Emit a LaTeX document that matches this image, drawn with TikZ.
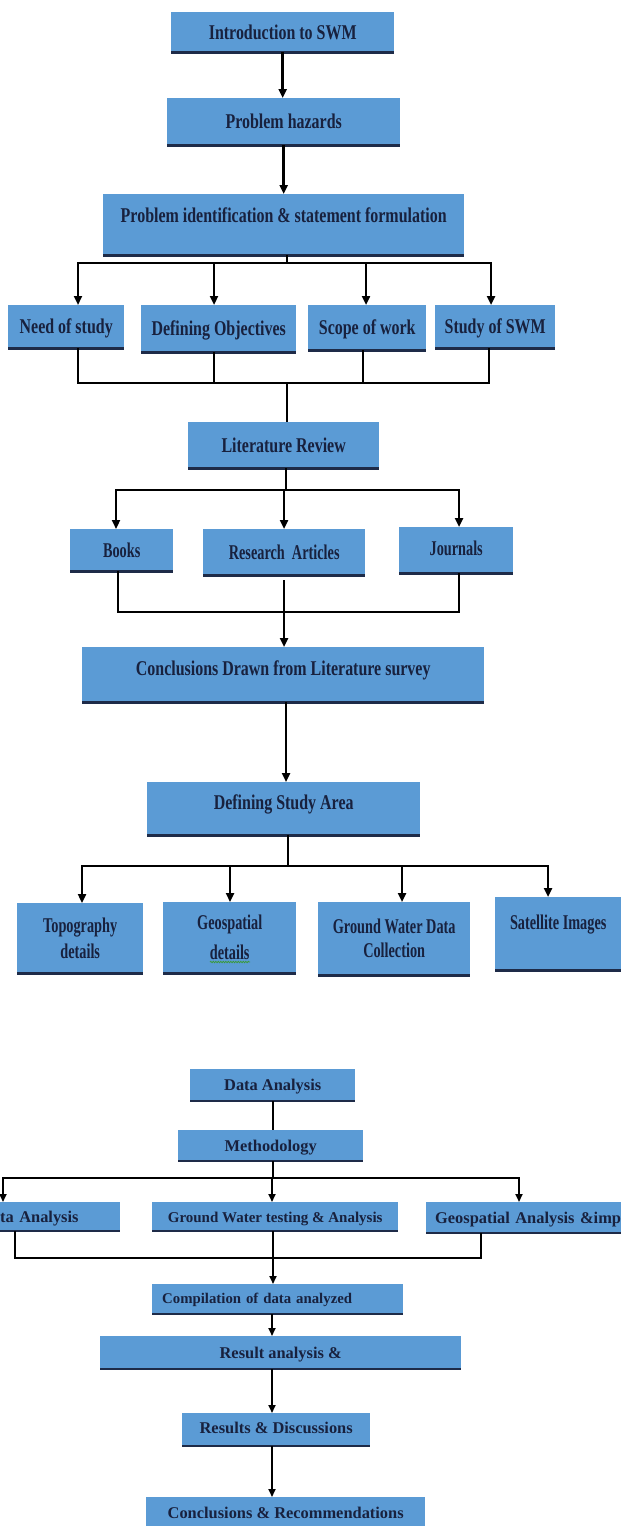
\documentclass[tikz,border=0pt]{standalone}
\usepackage{fontspec}
\setmainfont{Liberation Serif}
\newfontfamily\topfont[FakeStretch=0.76]{Liberation Serif}
\newfontfamily\topfontB[FakeStretch=0.68]{Liberation Serif}
\usetikzlibrary{arrows.meta,decorations.pathmorphing}
\definecolor{boxblue}{HTML}{5B9BD5}
\definecolor{txtc}{HTML}{18213E}
\definecolor{edgec}{HTML}{1E2B48}
\definecolor{wavy}{HTML}{3A9A3A}
\tikzset{
  box/.style={fill=boxblue, anchor=north west, inner sep=0pt, text=txtc, text depth=0pt},
  topA/.style={box, font=\topfont\bfseries\fontsize{21}{26}\selectfont, text height=14pt},
  topB/.style={box, font=\topfontB\bfseries\fontsize{21}{26}\selectfont, text height=14pt},
  botA/.style={box, font=\bfseries\fontsize{16.4}{20}\selectfont, text height=11pt},
  multi/.style={align=center, text height=, text depth=},
  edgeline/.style={draw=edgec, line width=2.4pt},
  conn/.style={draw=black, line width=2.6pt},
  arr/.style={conn, -{Triangle[length=9pt,width=8pt]}},
  darr/.style={conn, {Triangle[length=9pt,width=8pt]}-{Triangle[length=9pt,width=8pt]}},
  connB/.style={draw=black, line width=2.2pt},
  arrB/.style={connB, -{Triangle[length=8pt,width=7pt]}},
  darrB/.style={connB, {Triangle[length=8pt,width=7pt]}-{Triangle[length=8pt,width=7pt]}},
}
\begin{document}
\begin{tikzpicture}[x=1pt,y=-1pt]
\fill[white] (0,0) rectangle (621,1526);
\useasboundingbox (0,0) rectangle (621,1526);
\clip (0,0) rectangle (621,1526);

% ---------- upper chart ----------
\node[topA, minimum width=223pt, minimum height=40pt] (intro) at (171,12) {Introduction to SWM};
\node[topA, minimum width=233pt, minimum height=47pt] (haz) at (167,98) {Problem hazards};
\node[topA, minimum width=361pt, minimum height=61pt, text depth=18pt] (pid) at (103,194) {Problem identification \& statement formulation};

\node[topA, minimum width=116pt, minimum height=43pt] (need) at (8,305) {Need of study};
\node[topA, minimum width=155pt, minimum height=47pt] (obj) at (141,305) {Defining Objectives};
\node[topA, minimum width=118pt, minimum height=45pt] (scope) at (308,305) {Scope of work};
\node[topA, minimum width=120pt, minimum height=43pt] (sswm) at (435,305) {Study of SWM};

\node[topA, minimum width=191pt, minimum height=46pt] (lit) at (188,422) {Literature Review};

\node[topB, minimum width=103pt, minimum height=42pt] (books) at (70,529) {Books};
\node[topB, minimum width=162pt, minimum height=46pt] (res) at (203,529) {Research\ \ Articles};
\node[topB, minimum width=114pt, minimum height=46pt, text depth=4pt] (jour) at (399,527) {Journals};

\node[topA, minimum width=402pt, minimum height=55pt, text depth=12pt] (concl) at (82,647) {Conclusions Drawn from Literature survey};

\node[topA, minimum width=273pt, minimum height=53pt, text depth=12pt] (area) at (147,782) {Defining Study Area};

\node[topB, multi, minimum width=126pt, minimum height=70pt] (topo) at (17,903) {Topography\\details};
\node[topB, multi, minimum width=133pt, minimum height=71pt, font=\topfontB\bfseries\fontsize{21}{30}\selectfont] (geo) at (163,902) {Geospatial\\details};
\node[topB, multi, minimum width=152pt, minimum height=73pt, font=\topfontB\bfseries\fontsize{21}{24}\selectfont] (gw) at (318,902) {Ground Water Data\\Collection};
\node[topB, minimum width=126pt, minimum height=73pt, text depth=22pt] (sat) at (495,897) {Satellite Images};

% ---------- lower chart ----------
\node[botA, minimum width=165pt, minimum height=32pt] (da) at (190,1069) {Data Analysis};
\node[botA, minimum width=185pt, minimum height=31pt] (meth) at (178,1130) {Methodology};
\node[botA, minimum height=29pt, text width=120pt, align=left] (tan) at (0,1202) {ta Analysis};
\node[botA, minimum width=246pt, minimum height=29pt, font=\bfseries\fontsize{15}{18}\selectfont] (gwt) at (152,1202) {Ground Water testing \& Analysis};
\node[botA, minimum height=31pt, inner xsep=9pt, text width=190pt, align=left] (gai) at (426,1202) {Geospatial Analysis \&imp};
\node[botA, minimum height=30pt, inner xsep=10pt, text width=231pt, align=left, font=\bfseries\fontsize{14.8}{18}\selectfont, text depth=3pt] (comp) at (152,1284) {Compilation of data analyzed};
\node[botA, minimum width=361pt, minimum height=33pt] (ra) at (100,1336) {Result analysis \&};
\node[botA, minimum width=188pt, minimum height=33pt, text depth=4pt] (rd) at (182,1413) {Results \& Discussions};
\node[botA, minimum width=279pt, minimum height=31pt] (cr) at (146,1497) {Conclusions \& Recommendations};

% bottom edges of the boxes
\foreach \n in {intro,haz,pid,need,obj,scope,sswm,lit,books,res,jour,concl,area,topo,geo,gw,sat}
  \draw[edgeline] (\n.south west) -- (\n.south east);
\foreach \n in {da,meth,tan,gwt,gai,comp,ra,rd}
  \draw[edgeline, line width=2pt] (\n.south west) -- (\n.south east);

% spell-check underline
\draw[wavy, line width=0.8pt, decorate, decoration={snake, amplitude=0.7pt, segment length=2.5pt}] (210,962) -- (250,962);

% ---------- connectors, upper ----------
\draw[arr] (intro.south) -- (intro.south |- haz.north);
\draw[arr] (haz.south) -- (haz.south |- pid.north);

\coordinate (s1) at (287,263);
\coordinate (s1a) at (78,263);
\coordinate (s1b) at (214,263);
\coordinate (s1c) at (366,263);
\coordinate (s1d) at (491,263);
\draw[conn] (pid.south -| s1) -- (s1);
\draw[darr] (s1a |- need.north) -- (s1a) -- (s1d) -- (s1d |- sswm.north);
\draw[arr] (s1b) -- (s1b |- obj.north);
\draw[arr] (s1c) -- (s1c |- scope.north);

\coordinate (m1) at (287,383);
\coordinate (m1a) at (78,383);
\coordinate (m1b) at (214,383);
\coordinate (m1c) at (363,383);
\coordinate (m1d) at (489,383);
\draw[conn] (need.south -| m1a) -- (m1a) -- (m1d) -- (sswm.south -| m1d);
\draw[conn] (obj.south -| m1b) -- (m1b);
\draw[conn] (scope.south -| m1c) -- (m1c);
\draw[conn] (m1) -- (m1 |- lit.north);

\coordinate (s2) at (286,490);
\coordinate (s2a) at (116,490);
\coordinate (s2b) at (284,490);
\coordinate (s2c) at (459,490);
\draw[conn] (lit.south -| s2) -- (s2);
\draw[darr] (s2a |- books.north) -- (s2a) -- (s2c) -- (s2c |- jour.north);
\draw[arr] (s2b) -- (s2b |- res.north);

\coordinate (m2a) at (118,612);
\coordinate (m2b) at (284,612);
\coordinate (m2c) at (459,612);
\draw[conn] (books.south -| m2a) -- (m2a) -- (m2c) -- (jour.south -| m2c);
\draw[arr, shorten <=5pt] (res.south -| m2b) -- (m2b |- concl.north);

\coordinate (c3) at (286,0);
\draw[arr] (concl.south -| c3) -- (c3 |- area.north);

\coordinate (s3) at (288,866);
\coordinate (s3a) at (82,866);
\coordinate (s3b) at (230,866);
\coordinate (s3c) at (402,866);
\coordinate (s3d) at (548,866);
\draw[conn] (area.south -| s3) -- (s3);
\draw[darr] (s3a |- topo.north) -- (s3a) -- (s3d) -- (s3d |- sat.north);
\draw[arr] (s3b) -- (s3b |- geo.north);
\draw[arr] (s3c) -- (s3c |- gw.north);

% ---------- connectors, lower ----------
\coordinate (c4) at (273,0);
\draw[connB] (da.south -| c4) -- (c4 |- meth.north);

\coordinate (s4) at (273,1178);
\coordinate (s4a) at (3,1178);
\coordinate (s4b) at (272,1178);
\coordinate (s4c) at (519,1178);
\draw[connB] (meth.south -| s4) -- (s4);
\draw[darrB] (s4a |- tan.north) -- (s4a) -- (s4c) -- (s4c |- gai.north);
\draw[arrB] (s4b) -- (s4b |- gwt.north);

\coordinate (m4a) at (15,1258);
\coordinate (m4b) at (273,1258);
\coordinate (m4c) at (481,1258);
\draw[connB] (tan.south -| m4a) -- (m4a) -- (m4c) -- (gai.south -| m4c);
\draw[arrB] (gwt.south -| m4b) -- (m4b |- comp.north);

\coordinate (c5) at (272,0);
\draw[arrB] (comp.south -| c5) -- (c5 |- ra.north);
\draw[arrB] (ra.south -| c5) -- (c5 |- rd.north);
\draw[arrB] (rd.south -| c5) -- (c5 |- cr.north);
\end{tikzpicture}
\end{document}
